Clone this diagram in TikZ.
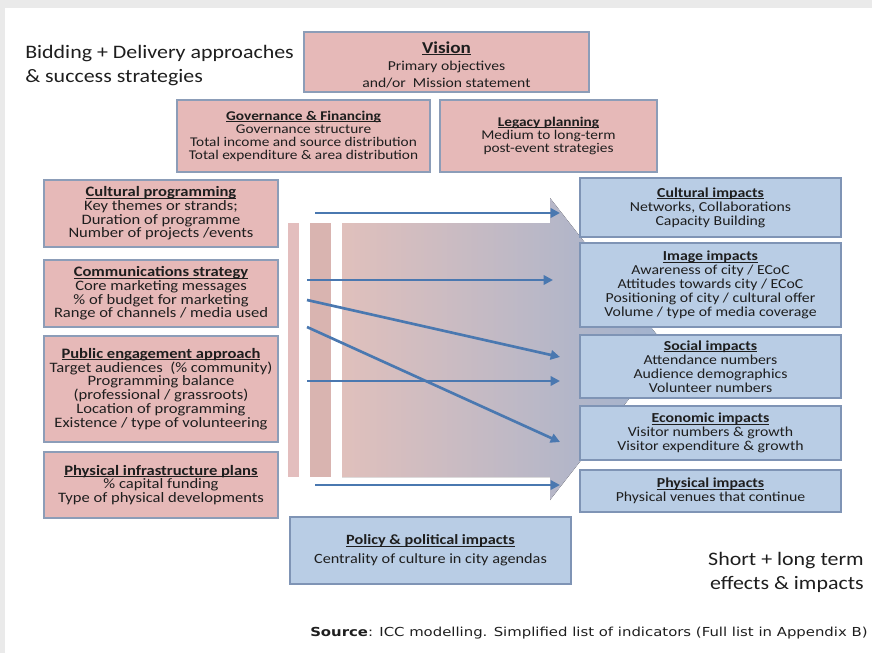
\documentclass[tikz,border=0pt]{standalone}
\usepackage{fontspec}
\setmainfont{Carlito}[FakeStretch=1.15]
\newfontfamily\srcfont{DejaVu Sans}[FakeStretch=1.2]
\usetikzlibrary{arrows.meta}
\definecolor{pinkfill}{HTML}{E6B9B8}
\definecolor{pinkedge}{HTML}{8C9DB8}
\definecolor{bluefill}{HTML}{B9CDE5}
\definecolor{blueedge}{HTML}{7F94B5}
\definecolor{txt}{HTML}{1E1E1E}
\definecolor{arrowblue}{HTML}{4A78B0}
\definecolor{strip}{HTML}{EAEAEA}
\definecolor{barone}{HTML}{E3BEBE}
\definecolor{bartwo}{HTML}{D9B4B0}
\newcommand\hd[1]{\sbox0{\textbf{#1}}\rlap{\rule[-1.3pt]{\wd0}{0.65pt}}\usebox0}
\tikzset{
  pinkbox/.style={draw=pinkedge, fill=pinkfill, line width=0.9pt, inner sep=0pt, align=center, text=txt},
  bluebox/.style={draw=blueedge, fill=bluefill, line width=0.9pt, inner sep=0pt, align=center, text=txt},
  sz/.style 2 args={minimum width={#1*0.75pt}, minimum height={#2*0.75pt}},
  leftfont/.style={font=\fontsize{10.8}{10.3}\selectfont},
  rightfont/.style={font=\fontsize{10.3}{10.5}\selectfont},
  topfont/.style={font=\fontsize{10}{9.75}\selectfont},
  flow/.style={draw=arrowblue, line width=2pt, -{Triangle[length=7pt,width=7pt]}},
  bigtext/.style={text=txt, font=\fontsize{14.3}{18}\selectfont, inner sep=0pt},
}
\begin{document}
\begin{tikzpicture}[x=0.75pt,y=-0.75pt]
\useasboundingbox (0,0) rectangle (872,653);
\fill[white] (0,0) rectangle (872,653);
\fill[strip] (0,0) rectangle (872,8);
\fill[strip] (0,0) rectangle (5,653);

% title
\node[bigtext, anchor=west, align=left] (title) at (25,66) {Bidding + Delivery approaches\\\& success strategies};

% top boxes
\node[pinkbox, sz={285}{60}, font=\fontsize{10.2}{13}\selectfont] (vision) at (446.5,62)
  {\rule{0pt}{13pt}{\fontsize{12.5}{13}\selectfont\hd{Vision}}\\Primary objectives\\and/or\ \ Mission statement};
\node[pinkbox, topfont, sz={253}{72}] (gov) at (303.5,136)
  {\hd{Governance \& Financing}\\Governance structure\\Total income and source distribution\\Total expenditure \& area distribution};
\node[pinkbox, topfont, sz={217}{72}] (legacy) at (548.5,136)
  {\hd{Legacy planning}\\Medium to long-term\\post-event strategies};

% big gradient arrow
\fill[left color={rgb,255:red,224;green,192;blue,188}, middle color={rgb,255:red,232;green,222;blue,226}, right color={rgb,255:red,160;green,178;blue,206}]
  (342,223) -- (550,223) -- (550,198) -- (668,349) -- (550,500) -- (550,477) -- (342,477) -- cycle;
\fill[barone] (288,223) rectangle (299,477);
\fill[bartwo] (310,223) rectangle (331,477);

% left boxes
\node[pinkbox, leftfont, sz={234}{67}] (cult) at (161,213.5)
  {\hd{Cultural programming}\\Key themes or strands;\\Duration of programme\\Number of projects /events};
\node[pinkbox, leftfont, sz={234}{67}] (comm) at (161,293.5)
  {\hd{Communications strategy}\\Core marketing messages\\\% of budget for marketing\\Range of channels / media used};
\node[pinkbox, leftfont, sz={234}{106}] (pub) at (161,389)
  {\hd{Public engagement approach}\\Target audiences\ \ (\% community)\\Programming balance\\(professional / grassroots)\\Location of programming\\Existence / type of volunteering};
\node[pinkbox, leftfont, sz={234}{66}] (phys) at (161,485)
  {\hd{Physical infrastructure plans}\\\% capital funding\\Type of physical developments};

% right boxes
\node[bluebox, rightfont, sz={261}{59}] (culti) at (710.5,207.5)
  {\hd{Cultural impacts}\\Networks, Collaborations\\Capacity Building};
\node[bluebox, rightfont, sz={261}{84}] (imgi) at (710.5,285)
  {\hd{Image impacts}\\Awareness of city / ECoC\\Attitudes towards city / ECoC\\Positioning of city / cultural offer\\Volume / type of media coverage};
\node[bluebox, rightfont, sz={261}{63}] (soci) at (710.5,366.5)
  {\hd{Social impacts}\\Attendance numbers\\Audience demographics\\Volunteer numbers};
\node[bluebox, rightfont, sz={261}{54}] (econi) at (710.5,433)
  {\hd{Economic impacts}\\Visitor numbers \& growth\\Visitor expenditure \& growth};
\node[bluebox, rightfont, sz={261}{42}] (physi) at (710.5,491)
  {\hd{Physical impacts}\\Physical venues that continue};
\node[bluebox, font=\fontsize{10.6}{14.25}\selectfont, sz={281}{67}] (policy) at (430.5,550.5)
  {\hd{Policy \& political impacts}\\Centrality of culture in city agendas};

% arrows
\coordinate (a1s) at (315,213); \coordinate (a1e) at (560,213);
\coordinate (a2s) at (307,280); \coordinate (a2e) at (553,280);
\coordinate (a3s) at (307,300); \coordinate (a3e) at (560,357);
\coordinate (a4s) at (307,381); \coordinate (a4e) at (560,381);
\coordinate (a5s) at (307,327); \coordinate (a5e) at (560,442);
\coordinate (a6s) at (315,485); \coordinate (a6e) at (560,485);
\draw[flow] (a1s) -- (a1e);
\draw[flow] (a2s) -- (a2e);
\draw[flow] (a3s) -- (a3e);
\draw[flow] (a4s) -- (a4e);
\draw[flow] (a5s) -- (a5e);
\draw[flow] (a6s) -- (a6e);

% bottom texts
\node[bigtext, anchor=east, align=right] (shortlong) at (864,572) {Short + long term\\effects \& impacts};
\node[anchor=west, inner sep=0pt, text=txt, font=\srcfont\fontsize{9.3}{11}\selectfont] (source) at (310,633)
  {\textbf{Source}: ICC modelling. Simplified list of indicators (Full list in Appendix B)};
\end{tikzpicture}
\end{document}
